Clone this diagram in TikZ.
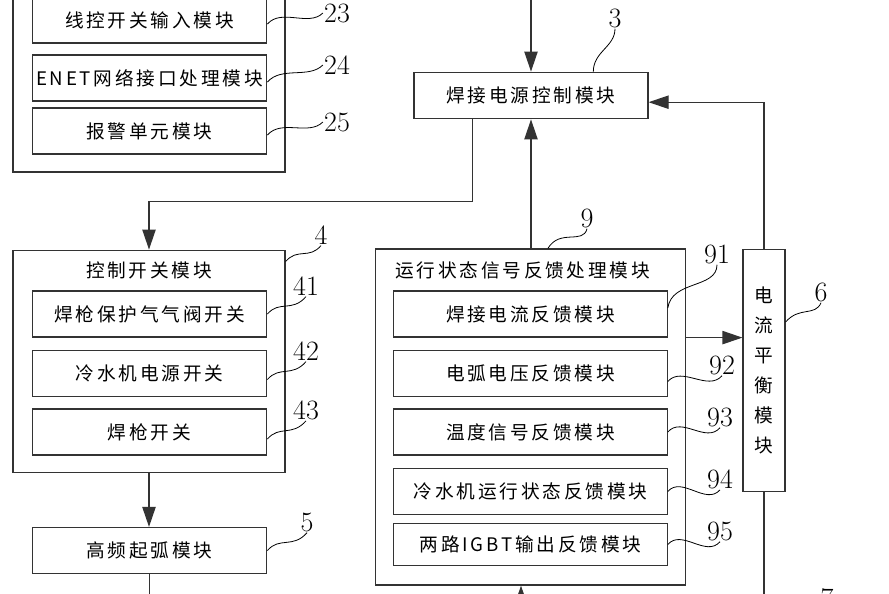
\documentclass[tikz,border=0pt]{standalone}
\usepackage{fontspec}
\usepackage{tikz}
\usetikzlibrary{arrows.meta,calc}
\newfontfamily\cjk[LetterSpace=15]{Noto Sans CJK SC}

\begin{document}
\begin{tikzpicture}[x=0.75pt,y=0.75pt,yscale=-1,xscale=1,
	box/.style={draw=black!80,line width=0.9pt,inner sep=0pt,font=\cjk\fontsize{14pt}{16pt}\selectfont},
	subbox/.style={box,minimum width=176pt,minimum height=34.5pt},
	fbbox/.style={box,minimum width=205pt,minimum height=34.5pt},
	title/.style={inner sep=0.75pt,font=\cjk\fontsize{14pt}{16pt}\selectfont},
	num/.style={inner sep=0.75pt,font=\fontsize{21pt}{21pt}\selectfont},
	conn/.style={draw=black!80,line width=0.9pt},
	arr/.style={conn,-{Triangle[length=15pt,width=10pt]}},
	squig/.style={line width=0.6pt}]
			\useasboundingbox (0,0) rectangle (889,593);
			\clip (0,0) rectangle (889,593);
	
			% Outer Box
			\draw (149,46) node [box,minimum width=204pt,minimum height=189pt] (o2) {};
			% Text Node
			\draw (149.5,20) node [subbox] (b23) {线控开关输入模块};
			% Text Node
			\draw (149.5,78) node [subbox] (b24) {ENET网络接口处理模块};
			% Text Node
			\draw (149.5,131) node [subbox] (b25) {报警单元模块};
			% Text Node
			\draw (531,95.5) node [box,minimum width=175.5pt,minimum height=35pt] (b3) {焊接电源控制模块};
			% Outer Box
			\draw (149,361.5) node [box,minimum width=204pt,minimum height=167pt] (o4) {};
			\draw (149,270) node [title] (t4) {控制开关模块};
			% Text Node
			\draw (149.5,314) node [subbox] (b41) {焊枪保护气气阀开关};
			% Text Node
			\draw (149.5,373.5) node [subbox] (b42) {冷水机电源开关};
			% Text Node
			\draw (149.5,432) node [subbox] (b43) {焊枪开关};
			% Text Node
			\draw (149.5,550.5) node [subbox] (b5) {高频起弧模块};
			% Outer Box
			\draw (530.5,417) node [box,minimum width=232pt,minimum height=252pt] (o9) {};
			\draw (394,270) node [title,anchor=west] (t9) {运行状态信号反馈处理模块};
			% Text Node
			\draw (530.5,314) node [fbbox] (b91) {焊接电流反馈模块};
			% Text Node
			\draw (530.5,373.5) node [fbbox] (b92) {电弧电压反馈模块};
			% Text Node
			\draw (530.5,432) node [fbbox] (b93) {温度信号反馈模块};
			% Text Node
			\draw (530.5,491.5) node [fbbox] (b94) {冷水机运行状态反馈模块};
			% Text Node
			\draw (530.5,544.5) node [fbbox,minimum height=31pt] (b95) {两路IGBT输出反馈模块};
			% Text Node
			\draw (764,370.5) node [box,minimum width=31.5pt,minimum height=181pt,align=center,font=\cjk\fontsize{14pt}{22.5pt}\selectfont] (b6) {电\\流\\平\\衡\\模\\块};
	
			% Numbers
			\draw (337,13) node [num] (l23) {23};
			\draw (337,65) node [num] (l24) {24};
			\draw (337,122) node [num] (l25) {25};
			\draw (615,18) node [num] (l3) {3};
			\draw (321,235) node [num] (l4) {4};
			\draw (306,286) node [num] (l41) {41};
			\draw (306,351) node [num] (l42) {42};
			\draw (306,410) node [num] (l43) {43};
			\draw (307,522) node [num] (l5) {5};
			\draw (587,218) node [num] (l9) {9};
			\draw (717,254) node [num] (l91) {91};
			\draw (722,365) node [num] (l92) {92};
			\draw (720,417) node [num] (l93) {93};
			\draw (720,479) node [num] (l94) {94};
			\draw (720,531) node [num] (l95) {95};
			\draw (821,292) node [num] (l6) {6};
			\draw (827,598) node [num] (l7) {7};
	
			% Leader
			\draw [squig] ($(b23.east)+(0,4)$) .. controls +(14,-16) and +(-14,14) .. (l23.west);
			\draw [squig] ($(b24.east)+(0,4)$) .. controls +(14,-16) and +(-14,14) .. (l24.west);
			\draw [squig] ($(b25.east)+(0,4)$) .. controls +(14,-16) and +(-14,14) .. (l25.west);
			\draw [squig] ($(b3.north west)!0.765!(b3.north east)$) .. controls +(0,-20) and +(0,18) .. (l3.south);
			\draw [squig] ($(o4.north east)+(0,12)$) .. controls +(12,-14) and +(-12,14) .. (l4.south);
			\draw [squig] (b41.east) .. controls +(12,-14) and +(-14,16) .. (l41.south);
			\draw [squig] ($(b42.east)+(0,6)$) .. controls +(12,-14) and +(-14,16) .. (l42.south);
			\draw [squig] ($(b43.east)+(0,7)$) .. controls +(12,-14) and +(-14,16) .. (l43.south);
			\draw [squig] (b5.east) .. controls +(12,-14) and +(-14,16) .. (l5.south);
			\draw [squig] ($(o9.north west)!0.556!(o9.north east)$) .. controls +(12,-20) and +(-4,16) .. (l9.south);
			\draw [squig] ($(b91.east)+(0,-6)$) .. controls +(4,-28) and +(0,24) .. (l91.south);
			\draw [squig] ($(b92.east)+(0,8)$) .. controls +(14,-16) and +(-14,16) .. (l92.south);
			\draw [squig] (b93.east) .. controls +(14,-16) and +(-14,16) .. (l93.south);
			\draw [squig] (b94.east) .. controls +(14,-16) and +(-14,16) .. (l94.south);
			\draw [squig] (b95.east) .. controls +(14,-16) and +(-14,16) .. (l95.south);
			\draw [squig] ($(b6.north east)!0.3!(b6.south east)$) .. controls +(14,-16) and +(-6,14) .. (l6.south);
	
			% Connection
			\draw [arr] (b3.north |- 0,-5) -- (b3.north);
			% Connection
			\draw [arr] ($(b3.south west)!0.25!(b3.south east)$) |- ($(o4.north)+(0,-48)$) -- (o4.north);
			% Connection
			\draw [arr] (b3.south |- o9.north) -- (b3.south);
			% Connection
			\draw [arr,{Triangle[length=15pt,width=10pt]}-] ($(b3.north east)!0.64!(b3.south east)$) -| (b6.north);
			% Connection
			\draw [arr] (b91.south -| o9.east) -- (b91.south -| b6.west);
			% Connection
			\draw [arr] (o4.south) -- (o4.south |- b5.north);
			% Connection
			\draw [conn] (b5.south) -- ++(0,30);
			% Connection
			\draw [conn] (b6.south) -- ++(0,110);
			% Connection
			\draw [arr] (521,605) -- (521,605 |- o9.south);
			\end{tikzpicture}
\end{document}
